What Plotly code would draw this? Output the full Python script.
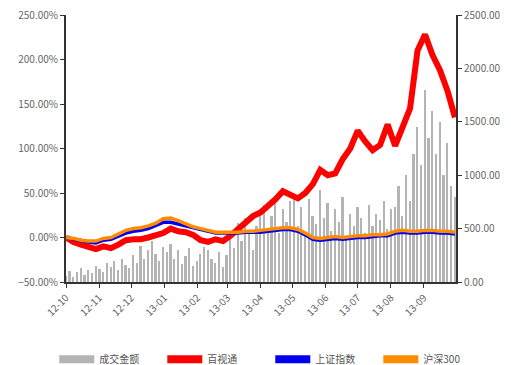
import pandas as pd
import plotly.graph_objects as go

# weekly observation dates for the price series
dates = pd.date_range("2012-10-01", "2013-09-30", freq="7D")
# half-week observation dates for the turnover bars
bar_dates = pd.date_range("2012-10-01", periods=105, freq="84h")

# 百视通 cumulative return (%)
bestv = [0, -5, -8, -10, -13, -10, -12, -8, -3, -2, -2, 0, 2, 5, 10, 7, 6, 3,
         -3, -5, -2, -4, 2, 10, 18, 24, 28, 35, 43, 52, 48, 44, 50, 60, 76, 70,
         72, 88, 100, 120, 108, 98, 104, 127, 103, 125, 145, 210, 228, 205, 188,
         165, 135]
# 上证指数 cumulative return (%)
shci = [0, -2, -4, -5, -6, -3, -2, 2, 5, 7, 8, 10, 13, 17, 17, 15, 12, 10, 8,
        6, 5, 5, 5, 5, 6, 6, 6, 7, 8, 9, 9, 7, 3, -2, -3, -2, -1, -2, -1, 0, 0,
        1, 2, 2, 5, 6, 5, 5, 6, 6, 5, 5, 4]
# 沪深300 cumulative return (%)
hs300 = [0, -1, -3, -4, -4, -1, 0, 4, 8, 10, 11, 13, 16, 21, 22, 19, 15, 12,
         10, 8, 6, 6, 6, 6, 7, 7, 8, 9, 10, 11, 11, 9, 5, 0, -1, 0, 1, 0, 1, 2,
         2, 3, 3, 4, 7, 8, 7, 7, 8, 8, 7, 7, 6]
# 成交金额 (right axis)
volume = [60, 100, 50, 90, 130, 70, 110, 80, 150,
          120, 90, 180, 140, 200, 110, 220, 160, 130,
          250, 180, 340, 220, 300, 380, 260, 200, 330,
          280, 360, 220, 300, 170, 240, 320, 150, 200,
          260, 330, 300, 220, 180, 280, 140, 250,
          420, 320, 550, 380, 600, 450, 300, 520, 640,
          720, 500, 620, 800, 460, 680, 560, 760,
          820, 520, 700, 460, 780, 620, 540, 860, 600,
          740, 480, 680, 560, 800, 420, 640, 520, 700,
          600, 460, 720, 520, 640, 580, 760, 500, 680,
          700, 900, 620, 1000, 760, 1200, 1450, 1100, 1800,
          1350, 1600, 1200, 1500, 1000, 1300, 900, 800]

legend_names = ["成交金额", "百视通", "上证指数", "沪深300"]
colors = ["#b4b4b4", "#ff0000", "#0000ee", "#ff8c00"]
tick_months = pd.date_range("2012-10-01", "2013-09-01", freq="MS")

FONT = "Noto Sans CJK SC, Liberation Sans, sans-serif"

fig = go.Figure()
fig.add_trace(go.Bar(x=bar_dates, y=volume, name=legend_names[0], yaxis="y",
                     showlegend=False,
                     marker=dict(color=colors[0], line=dict(width=0)),
                     width=1.6 * 24 * 3600 * 1000))
for name, ys, c, w in [(legend_names[1], bestv, colors[1], 6),
                       (legend_names[2], shci, colors[2], 3.5),
                       (legend_names[3], hs300, colors[3], 3.5)]:
    fig.add_trace(go.Scatter(x=dates, y=ys, name=name, yaxis="y2",
                             mode="lines", showlegend=False,
                             line=dict(color=c, width=w)))
# legend swatches (thick bars like the original)
for name, c in zip(legend_names, colors):
    fig.add_trace(go.Scatter(x=[None], y=[None], name=name, yaxis="y2",
                             mode="lines", line=dict(color=c, width=8)))

axis_common = dict(showgrid=False, zeroline=False, showline=True,
                   linecolor="#333333", linewidth=2, ticks="outside",
                   ticklen=4, tickcolor="#333333",
                   tickfont=dict(family=FONT, size=10, color="#666666"))

fig.update_layout(
    width=511, height=365,
    margin=dict(l=66, r=55, t=15, b=83, autoexpand=False),
    paper_bgcolor="white", plot_bgcolor="white",
    font=dict(family=FONT, size=10, color="#555555"),
    showlegend=True,
    bargap=0,
    xaxis=dict(**axis_common, type="date",
               range=["2012-10-01", "2013-10-01"],
               tickvals=tick_months, tickformat="%y-%m", tickangle=-45),
    yaxis=dict(**axis_common, side="right", range=[0, 2500], dtick=500,
               tickformat=".2f"),
    yaxis2=dict(**axis_common, side="left", overlaying="y",
                range=[-50, 250], dtick=50, tickformat=".2f", ticksuffix="%"),
    legend=dict(orientation="h", x=-0.03, xanchor="left", y=-0.235,
                yanchor="top", font=dict(family=FONT, size=10, color="#555555"),
                itemwidth=35, entrywidth=58, bgcolor="rgba(0,0,0,0)"),
)

fig.write_html("out.html")
